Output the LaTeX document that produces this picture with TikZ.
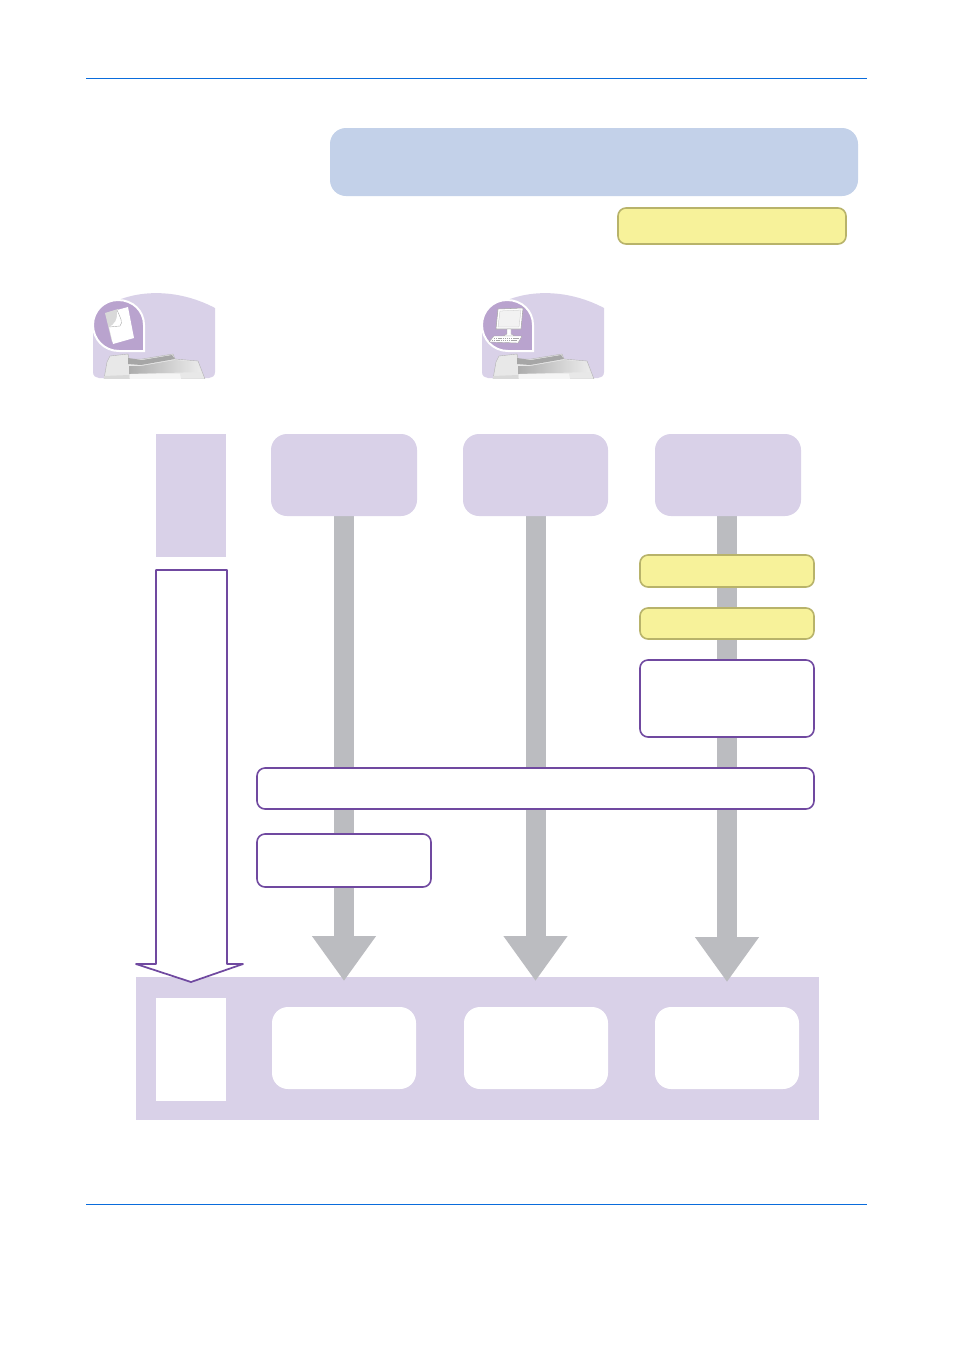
\documentclass[tikz,border=0pt]{standalone}
\usetikzlibrary{arrows.meta,calc}
\definecolor{lilac}{HTML}{D9D1E8}
\definecolor{lilacdark}{HTML}{B9A3CE}
\definecolor{bluebox}{HTML}{C3D1E9}
\definecolor{yel}{HTML}{F7F29A}
\definecolor{yelline}{HTML}{B8B36A}
\definecolor{purp}{HTML}{7049A0}
\definecolor{shaft}{HTML}{BBBCC0}
\definecolor{rule}{HTML}{0A6CDC}
\pgfdeclarelayer{bandlayer}
\pgfdeclarelayer{arrowlayer}
\pgfsetlayers{bandlayer,arrowlayer,main}
\tikzset{
  x=0.75pt,y=-0.75pt,
  boxbase/.style={inner sep=0pt,outer sep=0pt},
  lilacround/.style={boxbase,fill=lilac,rounded corners=12pt},
  lilacsquare/.style={boxbase,fill=lilac},
  whiteround/.style={boxbase,fill=white,rounded corners=12pt},
  whitesquare/.style={boxbase,fill=white},
  yellowbox/.style={boxbase,fill=yel,draw=yelline,line width=1.2pt,rounded corners=6pt},
  bluepanel/.style={boxbase,fill=bluebox,rounded corners=12pt},
  purplebox/.style={boxbase,fill=white,draw=purp,line width=1.2pt,rounded corners=6pt},
  flow/.style={draw=shaft,line width=15pt,-{Triangle[length=33.75pt,width=45.75pt]}},
  hollow/.style={fill=white,draw=purp,line width=1.3pt,line join=round},
  pagerule/.style={draw=rule,line width=0.6pt},
  pics/scene/.style={code={
    \fill[lilac] (93,372) -- (93,325) -- (112,303) .. controls (135,291) and (175,287) .. (215,308)
      -- (215,372) .. controls (215,376) and (212,378) .. (209,378) -- (99,378) .. controls (96,378) and (93,376) .. (93,372) -- cycle;
    \begin{scope}
      \clip (93,378) rectangle (215,292);
      % body outline
      \fill[gray!18,draw=gray!60,line width=0.3pt] (104,379) -- (107,362) -- (110,356) -- (128,354) -- (129,359) -- (142,359) -- (173,354) -- (175,359) -- (198,361) -- (205,379) -- cycle;
      % document tray
      \fill[gray!70] (128,358) -- (142,360) -- (172,355) -- (175,359) -- (141,365) -- (128,364) -- cycle;
      % top glass, shaded
      \shade[left color=gray!65,right color=gray!15] (129,366) -- (141,366) -- (175,360) -- (197,362) -- (201,372) -- (129,374) -- cycle;
      % front strip
      \fill[gray!8] (130,374) -- (180,373.5) -- (181,379) -- (130,379) -- cycle;
      \fill[gray!30] (104,376) -- (129,375) -- (129,379) -- (104,379) -- cycle;
    \end{scope}
    \fill[lilacdark,draw=white,line width=1.5pt] (144,351) -- (119,351)
      .. controls (104,351) and (93,339) .. (93,325) .. controls (93,311) and (104,300) .. (118,300)
      .. controls (133,300) and (144,311) .. (144,325) -- cycle;
  }},
  pics/sheet/.style={code={
    \fill[gray!30] (105,313) -- (118,309) -- (124,335) -- (112,342) -- cycle;
    \fill[white] (117,310) -- (128,307) -- (134,338) -- (113,344) -- (109,327) .. controls (114,325) and (118,320) .. (117,310) -- cycle;
    \draw[gray!65,line width=0.3pt] (117,310) .. controls (121,319) and (123,322) .. (120,326) -- (109,327);
  }},
  pics/computer/.style={code={
    \fill[white,draw=gray!70,line width=0.4pt] (498,309) -- (523,308) -- (521,329) -- (496,329) -- cycle;
    \fill[gray!10,draw=gray!50,line width=0.2pt] (500,311) -- (521,310) -- (519,327) -- (498,327) -- cycle;
    \fill[white,draw=gray!70,line width=0.3pt] (507,329) -- (511,329) -- (511,334) -- (515,336) -- (503,336) -- (507,334) -- cycle;
    \fill[white,draw=gray!70,line width=0.3pt] (494,336) -- (522,336) -- (518,343) -- (489,342) -- cycle;
    \draw[gray!70,line width=0.6pt,dash pattern=on 1pt off 0.6pt] (494,338) -- (519,338) (492,340) -- (517,340);
  }}
}
\newcommand{\bx}[6]{%
  \pgfmathsetmacro{\bw}{(#4-#2)*0.75}\pgfmathsetmacro{\bh}{(#5-#3)*0.75}%
  \node[#6,minimum width=\bw pt,minimum height=\bh pt] (#1) at ({(#2+#4)/2},{(#3+#5)/2}) {};%
}
\begin{document}
\begin{tikzpicture}
\useasboundingbox (0,0) rectangle (954,1350);
\begin{pgfonlayer}{bandlayer}
\fill[white] (0,0) rectangle (954,1350);
\end{pgfonlayer}
% page rules
\coordinate (ruleAl) at (86,78); \coordinate (ruleAr) at (867,78);
\coordinate (ruleBl) at (86,1204); \coordinate (ruleBr) at (867,1204);
\draw[pagerule] (ruleAl) -- (ruleAr);
\draw[pagerule] (ruleBl) -- (ruleBr);
% header
\bx{header}{330}{128}{858}{196}{bluepanel}
\bx{tag}{618}{208}{846}{244}{yellowbox}
% illustrations
\pic at (0,0) {scene};
\pic at (0,0) {sheet};
\pic at (389,0) {scene};
\pic at (0,0) {computer};
% band
\begin{pgfonlayer}{bandlayer}
\bx{band}{136}{977}{819}{1120}{lilacsquare}
\end{pgfonlayer}
% top boxes
\bx{side}{156}{434}{226}{557}{lilacsquare}
\bx{top1}{271}{434}{417}{516}{lilacround}
\bx{top2}{463}{434}{608}{516}{lilacround}
\bx{top3}{655}{434}{801}{516}{lilacround}
% boxes on the flows
\bx{y1}{640}{555}{814}{587}{yellowbox}
\bx{y2}{640}{608}{814}{639}{yellowbox}
\bx{opt}{640}{660}{814}{737}{purplebox}
\bx{wide}{257}{768}{814}{809}{purplebox}
\bx{small}{257}{834}{431}{887}{purplebox}
% bottom boxes
\bx{bside}{156}{998}{226}{1101}{whitesquare}
\bx{bot1}{272}{1007}{416}{1089}{whiteround}
\bx{bot2}{464}{1007}{608}{1089}{whiteround}
\bx{bot3}{655}{1007}{799}{1089}{whiteround}
% flows
\coordinate (tip1) at (344,981);
\coordinate (tip2) at (535.5,981);
\coordinate (tip3) at (727,982);
\begin{pgfonlayer}{arrowlayer}
\draw[flow] (top1.south) -- (tip1);
\draw[flow] (top2.south) -- (tip2);
\draw[flow] (tip3 |- top3.south) -- (tip3);
\end{pgfonlayer}
% hollow arrow
\draw[hollow] (156,570) -- (227,570) -- (227,964) -- (243,964) -- (191,982) -- (136,964) -- (156,964) -- cycle;
\end{tikzpicture}
\end{document}
